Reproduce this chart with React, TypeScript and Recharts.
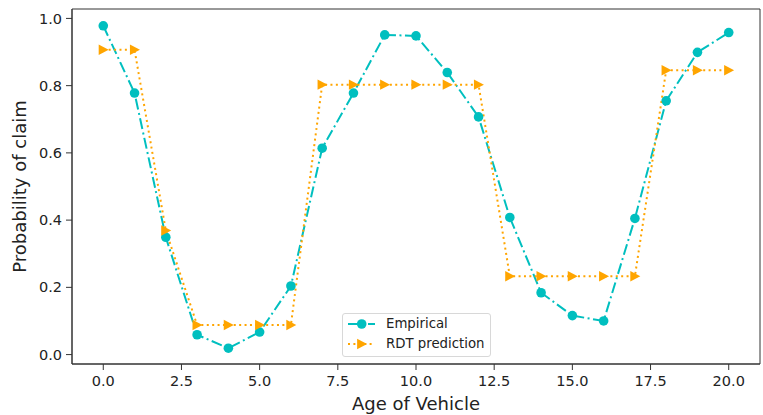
import React from 'react';
import { LineChart, Line, XAxis, YAxis, Legend, ReferenceArea } from 'recharts';

const ages = [0, 1, 2, 3, 4, 5, 6, 7, 8, 9, 10, 11, 12, 13, 14, 15, 16, 17, 18, 19, 20];
const empirical = [
  0.978, 0.778, 0.349, 0.059, 0.019, 0.067, 0.204, 0.614, 0.778, 0.951, 0.948,
  0.839, 0.707, 0.408, 0.184, 0.116, 0.1, 0.405, 0.755, 0.899, 0.958,
];
const rdtPrediction = [
  0.907, 0.907, 0.369, 0.088, 0.088, 0.088, 0.088, 0.803, 0.803, 0.803, 0.803,
  0.803, 0.803, 0.233, 0.233, 0.233, 0.233, 0.233, 0.846, 0.846, 0.846,
];
const xTicks = [0, 2.5, 5, 7.5, 10, 12.5, 15, 17.5, 20];
const yTicks = [0, 0.2, 0.4, 0.6, 0.8, 1.0];

const FONT = 'DejaVu Sans';
const CYAN = '#00bfbf';
const ORANGE = '#ffa500';
const DASHDOT = '11 3.5 2 3.5';
const DOTTED = '2 3.4';

const data = ages.map((age, i) => ({ age, empirical: empirical[i], rdt: rdtPrediction[i] }));

const CircleDot = (props: any) => {
  const { cx, cy } = props;
  if (cx == null || cy == null) return null;
  return <circle cx={cx} cy={cy} r={4.8} fill={CYAN} stroke="none" />;
};

const TriangleDot = (props: any) => {
  const { cx, cy } = props;
  if (cx == null || cy == null) return null;
  return <path d={`M${cx - 4.6},${cy - 5.2}L${cx + 5.4},${cy}L${cx - 4.6},${cy + 5.2}Z`} fill={ORANGE} stroke="none" />;
};

const XLabel = (props: any) => {
  const vb = props.viewBox || { x: 72, y: 364, width: 688, height: 51 };
  return (
    <text x={vb.x + vb.width / 2} y={vb.y + vb.height - 5} textAnchor="middle" fontSize={18} fontFamily={FONT} fill="#222">
      Age of Vehicle
    </text>
  );
};

const YLabel = (props: any) => {
  const vb = props.viewBox || { x: 0, y: 9, width: 72, height: 355 };
  const x = vb.x + 26;
  const y = vb.y + vb.height / 2;
  return (
    <text x={x} y={y} transform={`rotate(-90, ${x}, ${y})`} textAnchor="middle" fontSize={18} fontFamily={FONT} fill="#222">
      Probability of claim
    </text>
  );
};

const legendItems = [
  { label: 'Empirical', color: CYAN, dash: DASHDOT, marker: 'circle' },
  { label: 'RDT prediction', color: ORANGE, dash: DOTTED, marker: 'triangle' },
];

const LegendBox = () => (
  <div
    style={{
      width: 149,
      height: 44,
      boxSizing: 'border-box',
      border: '1px solid #d8d8d8',
      borderRadius: 3,
      background: 'rgba(255,255,255,0.8)',
      position: 'relative',
      fontFamily: FONT,
      fontSize: 13.3,
      color: '#222',
    }}
  >
    {legendItems.map((item, i) => {
      const cy = i === 0 ? 9.7 : 30.3;
      return (
        <div key={item.label} style={{ position: 'absolute', left: 0, top: cy - 10, height: 20, width: 149 }}>
          <svg width={40} height={20} style={{ position: 'absolute', left: 0, top: 0 }}>
            <line x1={5} y1={10} x2={32} y2={10} stroke={item.color} strokeWidth={2} strokeDasharray={item.dash} />
            {item.marker === 'circle' ? (
              <circle cx={18.7} cy={10} r={4.8} fill={item.color} />
            ) : (
              <path d={`M${18.7 - 4.6},${10 - 5.2}L${18.7 + 5.4},10L${18.7 - 4.6},${10 + 5.2}Z`} fill={item.color} />
            )}
          </svg>
          <span style={{ position: 'absolute', left: 43, top: 0, lineHeight: '20px', whiteSpace: 'nowrap' }}>{item.label}</span>
        </div>
      );
    })}
  </div>
);

export default function App() {
  return (
    <div style={{ position: 'absolute', left: 0, top: 0, width: 763, height: 415, background: '#fff' }}>
      <LineChart width={763} height={415} data={data} margin={{ top: 9, right: 3, left: 0, bottom: 0 }}>
        <XAxis
          dataKey="age"
          type="number"
          domain={[-1, 21]}
          ticks={xTicks}
          interval={0}
          tickFormatter={(v: number) => v.toFixed(1)}
          height={51}
          tickSize={6}
          tickMargin={6}
          stroke="#333"
          tick={{ fill: '#222', fontSize: 14.5, fontFamily: FONT }}
          label={<XLabel />}
        />
        <YAxis
          type="number"
          domain={[-0.028, 1.028]}
          ticks={yTicks}
          interval={0}
          tickFormatter={(v: number) => v.toFixed(1)}
          width={72}
          tickSize={6}
          tickMargin={4}
          stroke="#333"
          tick={{ fill: '#222', fontSize: 14.5, fontFamily: FONT }}
          label={<YLabel />}
        />
        <ReferenceArea x1={-1} x2={21} y1={-0.028} y2={1.028} fill="none" stroke="#333" strokeWidth={1} />
        <Line
          type="linear"
          dataKey="empirical"
          name="Empirical"
          stroke={CYAN}
          strokeWidth={2}
          strokeDasharray={DASHDOT}
          dot={<CircleDot />}
          activeDot={false}
          isAnimationActive={false}
        />
        <Line
          type="linear"
          dataKey="rdt"
          name="RDT prediction"
          stroke={ORANGE}
          strokeWidth={2}
          strokeDasharray={DOTTED}
          dot={<TriangleDot />}
          activeDot={false}
          isAnimationActive={false}
        />
        <Legend
          layout="vertical"
          align="center"
          verticalAlign="middle"
          content={<LegendBox />}
          wrapperStyle={{ position: 'absolute', left: 342, top: 313, width: 149, height: 44 }}
        />
      </LineChart>
    </div>
  );
}
